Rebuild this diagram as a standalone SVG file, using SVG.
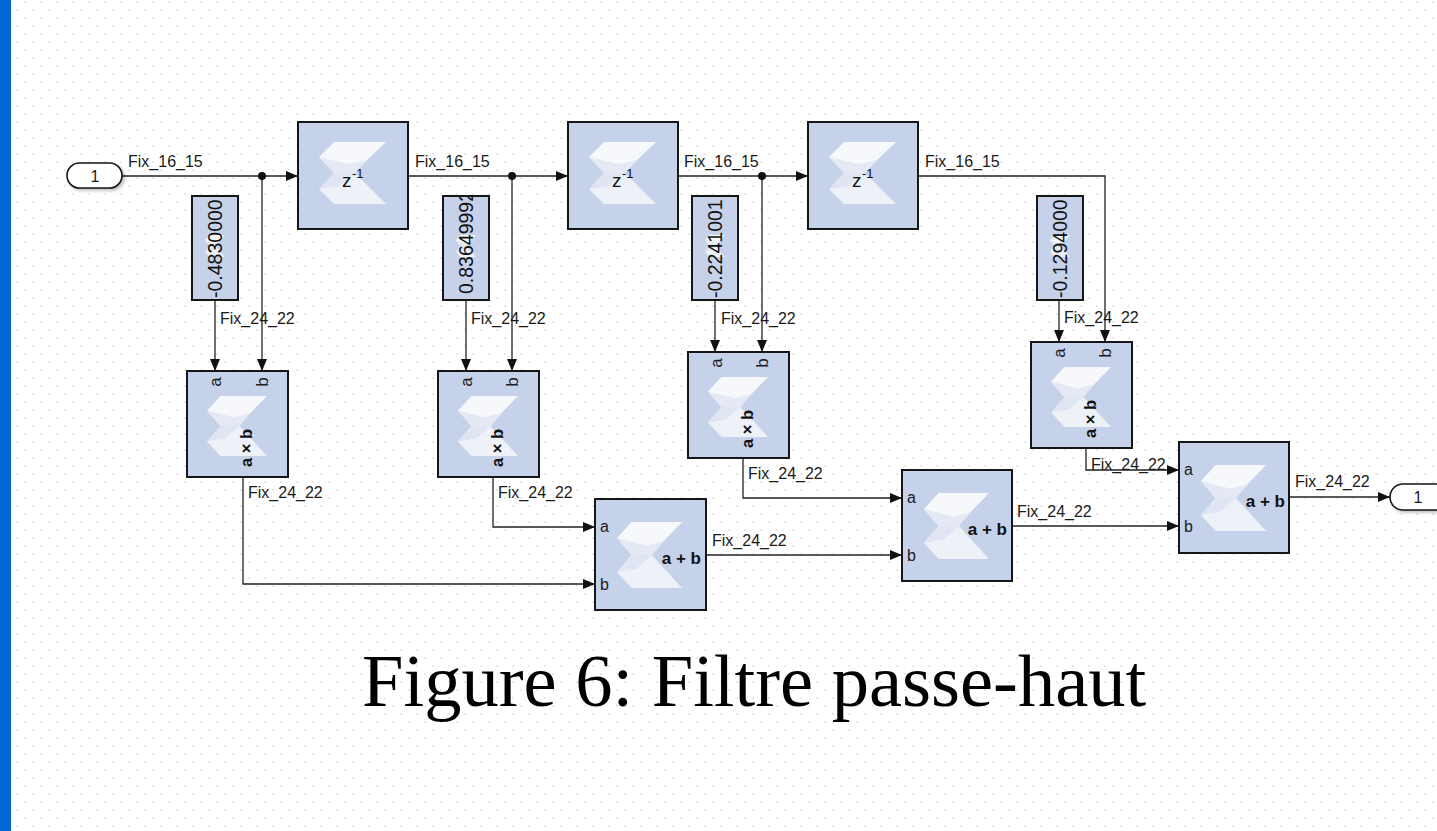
<svg xmlns="http://www.w3.org/2000/svg" xmlns:xlink="http://www.w3.org/1999/xlink" width="1437" height="831" viewBox="0 0 1437 831">
<style>
.blk{fill:#c6d2ea;stroke:#161616;stroke-width:2}
.port{fill:#ffffff;stroke:#161616;stroke-width:1.6}
.w{fill:none;stroke:#222;stroke-width:1.3}
.wa{fill:none;stroke:#222;stroke-width:1.3;marker-end:url(#arr)}
.lbl{font-family:"Liberation Sans",Arial,sans-serif;font-size:16px;fill:#1a1a1a}
.io{font-family:"Liberation Sans",Arial,sans-serif;font-size:16px;fill:#1a1a1a;text-anchor:middle}
.mio{font-family:"Liberation Sans",Arial,sans-serif;font-size:17px;fill:#1a1a1a;text-anchor:middle}
.cst{font-family:"Liberation Sans",Arial,sans-serif;font-size:19.5px;fill:#111}
.op{font-family:"Liberation Sans",Arial,sans-serif;font-size:17px;font-weight:bold;fill:#111;text-anchor:end}
.opr{font-family:"Liberation Sans",Arial,sans-serif;font-size:16.5px;font-weight:bold;fill:#111;text-anchor:middle}
.z{font-family:"Liberation Sans",Arial,sans-serif;font-size:19px;fill:#111}
.zs{font-family:"Liberation Sans",Arial,sans-serif;font-size:13px;fill:#111}
.cap{font-family:"Liberation Serif","Times New Roman",serif;font-size:74.5px;fill:#000}
</style>
<defs>
<pattern id="dots" patternUnits="userSpaceOnUse" x="0" y="0" width="16" height="16">
<rect x="8" y="1" width="2" height="2" fill="#e9e9e9"/>
<rect x="0" y="9" width="2" height="2" fill="#e9e9e9"/>
</pattern>
<marker id="arr" markerUnits="userSpaceOnUse" viewBox="0 0 12 10" refX="12" refY="5" markerWidth="12" markerHeight="10" orient="auto">
<path d="M0,0 L12,5 L0,10 z" fill="#111"/>
</marker>
<symbol id="logo" viewBox="0 0 67 62" preserveAspectRatio="none">
<polygon points="15,0 67,0 48,18 36,31 15,31 0,15" fill="#f6f8fc"/>
<polygon points="0,15 15,31 36,31 48,18 30,22" fill="#e4e9f4"/>
<polygon points="15,31 36,31 48,43 67,62 15,62 0,47" fill="#eef1f8"/>
<polygon points="0,47 15,31 36,31 20,44" fill="#dfe5f2"/>
</symbol>
<filter id="sh" x="-20%" y="-20%" width="150%" height="160%">
<feDropShadow dx="2" dy="2" stdDeviation="1.5" flood-color="#000" flood-opacity="0.25"/>
</filter>
<clipPath id="cc1"><rect x="192" y="196" width="46" height="104"/></clipPath>
<clipPath id="cc2"><rect x="443" y="196" width="46" height="104"/></clipPath>
<clipPath id="cc3"><rect x="692" y="196" width="46" height="104"/></clipPath>
<clipPath id="cc4"><rect x="1037" y="196" width="46" height="104"/></clipPath>
</defs>

<rect x="0" y="0" width="1437" height="831" fill="#ffffff"/>
<rect x="11" y="0" width="1426" height="831" fill="url(#dots)"/>
<rect x="0" y="0" width="11" height="831" fill="#0366d6"/>

<g id="connectors">
<path class="wa" d="M122 176 H298"/>
<path class="wa" d="M262 176 V371"/>
<path class="wa" d="M408 176 H568"/>
<path class="wa" d="M512 176 V371"/>
<path class="wa" d="M678 176 H808"/>
<path class="wa" d="M762 176 V352"/>
<path class="wa" d="M918 176 H1105 V342"/>
<path class="wa" d="M215 300 V371"/>
<path class="wa" d="M466 300 V371"/>
<path class="wa" d="M715 300 V352"/>
<path class="wa" d="M1059 300 V342"/>
<path class="wa" d="M243 477 V584 H595"/>
<path class="wa" d="M493 477 V527 H595"/>
<path class="wa" d="M706 555 H902"/>
<path class="wa" d="M743 458 V498 H902"/>
<path class="wa" d="M1012 526 H1179"/>
<path class="wa" d="M1086 448 V470 H1179"/>
<path class="wa" d="M1289 497 H1390"/>
<circle cx="262" cy="176" r="4" fill="#111"/>
<circle cx="512" cy="176" r="4" fill="#111"/>
<circle cx="762" cy="176" r="4" fill="#111"/>
<text class="lbl" x="128" y="167">Fix_16_15</text>
<text class="lbl" x="415" y="167">Fix_16_15</text>
<text class="lbl" x="684" y="167">Fix_16_15</text>
<text class="lbl" x="925" y="167">Fix_16_15</text>
<text class="lbl" x="220" y="324">Fix_24_22</text>
<text class="lbl" x="471" y="324">Fix_24_22</text>
<text class="lbl" x="721" y="324">Fix_24_22</text>
<text class="lbl" x="1064" y="323">Fix_24_22</text>
<text class="lbl" x="248" y="498">Fix_24_22</text>
<text class="lbl" x="498" y="498">Fix_24_22</text>
<text class="lbl" x="748" y="479">Fix_24_22</text>
<text class="lbl" x="1091" y="470">Fix_24_22</text>
<text class="lbl" x="712" y="546">Fix_24_22</text>
<text class="lbl" x="1017" y="517">Fix_24_22</text>
<text class="lbl" x="1295" y="487">Fix_24_22</text>
</g>

<g id="in1">
<rect class="port" x="67" y="163" width="55" height="25" rx="12.5" filter="url(#sh)"/>
<text class="io" x="95" y="182">1</text>
</g>

<g id="delay1">
<rect class="blk" x="298" y="122" width="110" height="107"/>
<use href="#logo" x="319" y="142" width="67" height="62"/>
<text class="z" x="342" y="187">z</text><text class="zs" x="352" y="178">-1</text>
</g>
<g id="delay2">
<rect class="blk" x="568" y="122" width="110" height="107"/>
<use href="#logo" x="589" y="142" width="67" height="62"/>
<text class="z" x="612" y="187">z</text><text class="zs" x="622" y="178">-1</text>
</g>
<g id="delay3">
<rect class="blk" x="808" y="122" width="110" height="107"/>
<use href="#logo" x="829" y="142" width="67" height="62"/>
<text class="z" x="852" y="187">z</text><text class="zs" x="862" y="178">-1</text>
</g>

<g id="const1">
<rect class="blk" x="192" y="196" width="46" height="104"/>
<use href="#logo" x="205" y="235" width="20" height="22"/>
<g clip-path="url(#cc1)"><text class="cst" transform="translate(222,298) rotate(-90)">-0.4830000</text></g>
</g>
<g id="const2">
<rect class="blk" x="443" y="196" width="46" height="104"/>
<use href="#logo" x="456" y="235" width="20" height="22"/>
<g clip-path="url(#cc2)"><text class="cst" transform="translate(473,294) rotate(-90)">0.83649992</text></g>
</g>
<g id="const3">
<rect class="blk" x="692" y="196" width="46" height="104"/>
<use href="#logo" x="705" y="235" width="20" height="22"/>
<g clip-path="url(#cc3)"><text class="cst" transform="translate(722,298) rotate(-90)">-0.2241001</text></g>
</g>
<g id="const4">
<rect class="blk" x="1037" y="196" width="46" height="104"/>
<use href="#logo" x="1050" y="235" width="20" height="22"/>
<g clip-path="url(#cc4)"><text class="cst" transform="translate(1067,298) rotate(-90)">-0.1294000</text></g>
</g>

<g id="mult1">
<rect class="blk" x="187" y="371" width="101" height="106"/>
<use href="#logo" x="207" y="396" width="60" height="60"/>
<text class="mio" transform="translate(215,382) rotate(-90)" dy="0.35em">a</text>
<text class="mio" transform="translate(262,382) rotate(-90)" dy="0.35em">b</text>
<text class="opr" transform="translate(246,448) rotate(-90)" dy="0.35em">a × b</text>
</g>
<g id="mult2">
<rect class="blk" x="438" y="371" width="101" height="106"/>
<use href="#logo" x="458" y="396" width="60" height="60"/>
<text class="mio" transform="translate(466,382) rotate(-90)" dy="0.35em">a</text>
<text class="mio" transform="translate(512,382) rotate(-90)" dy="0.35em">b</text>
<text class="opr" transform="translate(497,448) rotate(-90)" dy="0.35em">a × b</text>
</g>
<g id="mult3">
<rect class="blk" x="688" y="352" width="101" height="106"/>
<use href="#logo" x="708" y="377" width="60" height="60"/>
<text class="mio" transform="translate(716,363) rotate(-90)" dy="0.35em">a</text>
<text class="mio" transform="translate(762,363) rotate(-90)" dy="0.35em">b</text>
<text class="opr" transform="translate(747,429) rotate(-90)" dy="0.35em">a × b</text>
</g>
<g id="mult4">
<rect class="blk" x="1031" y="342" width="101" height="106"/>
<use href="#logo" x="1051" y="367" width="60" height="60"/>
<text class="mio" transform="translate(1059,353) rotate(-90)" dy="0.35em">a</text>
<text class="mio" transform="translate(1105,353) rotate(-90)" dy="0.35em">b</text>
<text class="opr" transform="translate(1090,419) rotate(-90)" dy="0.35em">a × b</text>
</g>

<g id="add1">
<rect class="blk" x="595" y="499" width="111" height="111"/>
<use href="#logo" x="617" y="522" width="65" height="66"/>
<text class="lbl" x="600" y="532">a</text>
<text class="lbl" x="600" y="590">b</text>
<text class="op" x="701" y="564">a + b</text>
</g>
<g id="add2">
<rect class="blk" x="902" y="470" width="110" height="111"/>
<use href="#logo" x="924" y="493" width="65" height="66"/>
<text class="lbl" x="907" y="503">a</text>
<text class="lbl" x="907" y="561">b</text>
<text class="op" x="1007" y="535">a + b</text>
</g>
<g id="add3">
<rect class="blk" x="1179" y="442" width="110" height="111"/>
<use href="#logo" x="1201" y="465" width="65" height="66"/>
<text class="lbl" x="1184" y="475">a</text>
<text class="lbl" x="1184" y="532">b</text>
<text class="op" x="1285" y="507">a + b</text>
</g>

<g id="out1">
<rect class="port" x="1390" y="484" width="60" height="26" rx="13" filter="url(#sh)"/>
<text class="io" x="1418" y="503">1</text>
</g>

<text class="cap" x="362" y="706">Figure 6: Filtre passe-haut</text>
</svg>
